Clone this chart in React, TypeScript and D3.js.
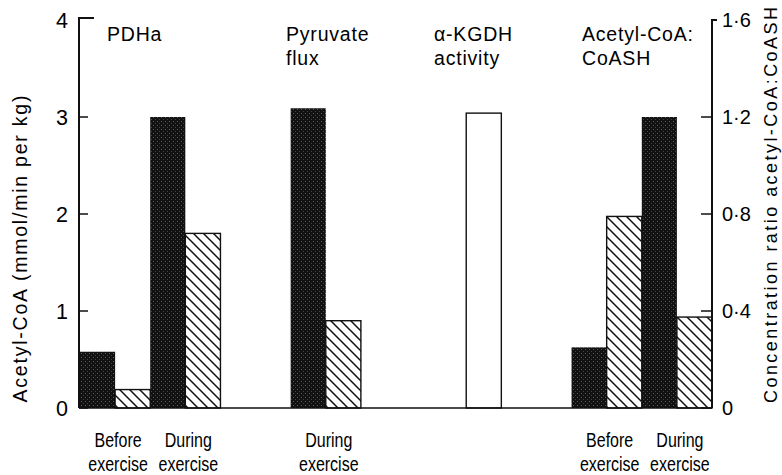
import * as d3 from 'd3'

// slot index (18 equal slots across the plot), value and fill kind
const pdhaSlots = [0, 1, 2, 3]
const pdhaValues = [0.58, 0.19, 3.0, 1.8]
const pyruvateSlots = [6, 7]
const pyruvateValues = [3.09, 0.9]
const kgdhSlots = [11]
const kgdhValues = [3.04]
const ratioSlots = [14, 15, 16, 17]
const ratioValues = [0.25, 0.79, 1.2, 0.375]

const pairKinds = ['dark', 'hatch', 'dark', 'hatch']
const panelTitles = [
  {lines: ['PDHa'], x: 107},
  {lines: ['Pyruvate', 'flux'], x: 286},
  {lines: ['\u03b1-KGDH', 'activity'], x: 434},
  {lines: ['Acetyl-CoA:', 'CoASH'], x: 582},
]
const xLabels = [
  {slots: [0, 1], text: ['Before', 'exercise']},
  {slots: [2, 3], text: ['During', 'exercise']},
  {slots: [6, 7], text: ['During', 'exercise']},
  {slots: [14, 15], text: ['Before', 'exercise']},
  {slots: [16, 17], text: ['During', 'exercise']},
]
const leftTicks = [0, 1, 2, 3, 4]
const rightTicks = [0, 0.4, 0.8, 1.2, 1.6]
const rightTickLabels = ['0', '0\u00b74', '0\u00b78', '1\u00b72', '1\u00b76']

const font = 'Arial, "Liberation Sans", Helvetica, sans-serif'

export default function App() {
  const width = 782
  const height = 475
  const left = 79
  const right = 712
  const top = 20
  const bottom = 408

  const x = d3.scaleBand<number>().domain(d3.range(18)).range([left + 1, right]).padding(0)
  const yL = d3.scaleLinear().domain([0, 4]).range([bottom, top])
  const yR = d3.scaleLinear().domain([0, 1.6]).range([bottom, top])

  const bars = [
    ...pdhaSlots.map((s, i) => ({slot: s, y: yL(pdhaValues[i]), kind: pairKinds[i]})),
    ...pyruvateSlots.map((s, i) => ({slot: s, y: yL(pyruvateValues[i]), kind: pairKinds[i]})),
    ...kgdhSlots.map(s => ({slot: s, y: yL(kgdhValues[0]), kind: 'open'})),
    ...ratioSlots.map((s, i) => ({slot: s, y: yR(ratioValues[i]), kind: pairKinds[i]})),
  ]

  const fillFor = (k: string) => (k === 'dark' ? 'url(#stipple)' : k === 'hatch' ? 'url(#hatch)' : '#fff')

  return (
    <svg width={width} height={height} style={{position: 'absolute', left: 0, top: 0}} fontFamily={font}>
      <defs>
        <pattern id="stipple" patternUnits="userSpaceOnUse" width={4} height={4}>
          <rect width={4} height={4} fill="#111" />
          <rect x={1} y={1} width={1} height={1} fill="#606060" />
          <rect x={3} y={3} width={1} height={1} fill="#444" />
        </pattern>
        <pattern id="hatch" patternUnits="userSpaceOnUse" width={10} height={10}>
          <rect width={10} height={10} fill="#fff" />
          <path d="M0,0 L10,10 M-5,5 L5,15 M5,-5 L15,5" stroke="#111" strokeWidth={1.5} />
        </pattern>
      </defs>

      {bars.map((b, i) => (
        <rect
          key={i}
          x={x(b.slot)}
          y={b.y}
          width={x.bandwidth()}
          height={bottom - b.y}
          fill={fillFor(b.kind)}
          stroke="#111"
          strokeWidth={b.kind === 'dark' ? 0 : 1.4}
        />
      ))}

      {/* baseline */}
      <line x1={left} x2={right} y1={bottom} y2={bottom} stroke="#111" strokeWidth={1.3} />

      {/* left axis */}
      <path
        d={`M${left + 15},${yL(4) - 2}H${left}V${bottom}`}
        fill="none"
        stroke="#111"
        strokeWidth={2}
      />
      {leftTicks.map(t => (
        <g key={t}>
          {t < 4 && (
            <line x1={left} x2={left + 9} y1={yL(t)} y2={yL(t)} stroke="#111" strokeWidth={1.5} />
          )}
          <text x={68} y={yL(t)} dy="0.36em" textAnchor="end" fontSize={21.5}>
            {t}
          </text>
        </g>
      ))}
      <text
        transform={`translate(27, 249) rotate(-90)`}
        textAnchor="middle"
        fontSize={19.5}
        textLength={307}
        lengthAdjust="spacing"
      >
        Acetyl-CoA (mmol/min per kg)
      </text>

      {/* right axis */}
      <path
        d={`M${right + 5},${yR(1.6)}H${right}V${bottom}`}
        fill="none"
        stroke="#111"
        strokeWidth={2}
      />
      {rightTicks.map((t, i) => (
        <g key={t}>
          {t < 1.6 && (
            <line x1={right - 11} x2={right} y1={yR(t)} y2={yR(t)} stroke="#111" strokeWidth={1.5} />
          )}
          <text x={722} y={yR(t)} dy="0.36em" textAnchor="start" fontSize={20}>
            {rightTickLabels[i]}
          </text>
        </g>
      ))}
      <text
        transform={`translate(777, 205) rotate(-90)`}
        textAnchor="middle"
        fontSize={18}
        textLength={396}
        lengthAdjust="spacing"
      >
        Concentration ratio acetyl-CoA:CoASH
      </text>

      {/* panel titles */}
      {panelTitles.map((p, i) => (
        <text key={i} x={p.x} y={41} fontSize={19.5} letterSpacing={0.8}>
          {p.lines.map((l, j) => (
            <tspan key={j} x={p.x} dy={j === 0 ? 0 : 24}>
              {l}
            </tspan>
          ))}
        </text>
      ))}

      {/* category labels */}
      {xLabels.map((c, i) => {
        const cx = ((x(c.slots[0]) ?? 0) + (x(c.slots[1]) ?? 0) + x.bandwidth()) / 2 + 3
        return (
          <g key={i} transform={`translate(${cx},0) scale(0.8,1)`}>
            <text x={0} y={447} textAnchor="middle" fontSize={20}>
              <tspan x={0}>{c.text[0]}</tspan>
              <tspan x={0} dy={24}>
                {c.text[1]}
              </tspan>
            </text>
          </g>
        )
      })}
    </svg>
  )
}
